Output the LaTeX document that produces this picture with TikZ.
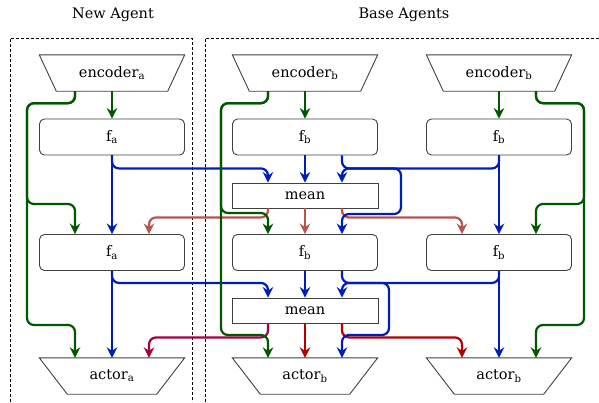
\documentclass[tikz,border=0pt]{standalone}
\usepackage{fontspec}
\setmainfont{DejaVu Serif}
\usetikzlibrary{arrows.meta}
\usetikzlibrary{calc}

\definecolor{grn}{HTML}{005700}
\definecolor{blu}{HTML}{001DBC}
\definecolor{lred}{HTML}{B85450}
\definecolor{crim}{HTML}{A50040}
\definecolor{dred}{HTML}{B20000}

\tikzset{
  fbox/.style={draw=black!75, line width=0.9pt, rounded corners=5pt, minimum width=145pt, minimum height=36pt},
  meanbox/.style={draw=black!75, line width=0.9pt, minimum width=146pt, minimum height=25pt},
  trap/.style={minimum width=145pt, minimum height=36pt},
  outline/.style={draw=black!75, line width=0.9pt, line join=miter},
  wire/.style={line width=2.2pt, rounded corners=7pt, -{Stealth[length=10.5pt,width=10.5pt,inset=3.5pt]}}
}
\newcommand{\trapline}[2]{\draw[outline] (#1.north west) -- (#1.north east) -- ($(#1.south east)+(-#2,0)$) -- ($(#1.south west)+(#2,0)$) -- cycle;}

\begin{document}
\begin{tikzpicture}[x=1pt,y=-1pt,font=\fontsize{14.5}{17}\selectfont]
        \useasboundingbox (0,0) rectangle (599,402);
        \draw [dash pattern=on 3pt off 2pt] (10,402) -- (10,38) -- (192,38) -- (192,402);
        \draw [dash pattern=on 3pt off 2pt] (205,402) -- (205,38) -- (599,38);
        \node (newtitle) at (113,15) {New Agent};
        \node (basetitle) at (404,15) {Base Agents};

        \node[trap] (encA) at (112,73) {encoder\textsubscript{a}};
        \node[trap] (encB) at (305,73) {encoder\textsubscript{b}};
        \node[trap] (encC) at (499,73) {encoder\textsubscript{b}};
        \trapline{encA}{17}
        \trapline{encB}{17}
        \trapline{encC}{17}
        \node[fbox] (fA1) at (112,137) {f\textsubscript{a}};
        \node[fbox] (fB1) at (305,137) {f\textsubscript{b}};
        \node[fbox] (fC1) at (499,137) {f\textsubscript{b}};
        \node[meanbox] (mean1) at (305,195.5) {mean};
        \node[fbox] (fA2) at (112,252.5) {f\textsubscript{a}};
        \node[fbox] (fB2) at (305,252.5) {f\textsubscript{b}};
        \node[fbox] (fC2) at (499,252.5) {f\textsubscript{b}};
        \node[meanbox] (mean2) at (305,310.5) {mean};
        \node[trap] (actA) at (112,376) {actor\textsubscript{a}};
        \node[trap] (actB) at (305,376) {actor\textsubscript{b}};
        \node[trap] (actC) at (499,376) {actor\textsubscript{b}};
        \trapline{actA}{28}
        \trapline{actB}{28}
        \trapline{actC}{28}

        \draw[wire, lred] ([xshift=-37pt]mean1.south) -- ++(0,9) -| ([xshift=37pt]fA2.north);
        \draw[wire, lred] (mean1.south) -- (fB2.north);
        \draw[wire, lred] ([xshift=37pt]mean1.south) -- ++(0,9) -| ([xshift=-37pt]fC2.north);
        \draw[wire, crim] ([xshift=-37pt]mean2.south) -- ++(0,14) -| ([xshift=37pt]actA.north);
        \draw[wire, dred] (mean2.south) -- (actB.north);
        \draw[wire, dred] ([xshift=37pt]mean2.south) -- ++(0,14) -| ([xshift=-37pt]actC.north);

        \draw[wire, blu] (fA1.south) -- (fA2.north);
        \draw[wire, blu] (fA1.south) -- ++(0,13) -| ([xshift=-37pt]mean1.north);
        \draw[wire, blu] (fB1.south) -- (mean1.north);
        \draw[wire, blu] ([xshift=37pt]fB1.south) -- ++(0,13) -| (401,214) -| ([xshift=37pt]fB2.north);
        \draw[wire, blu] (fC1.south) -- (fC2.north);
        \draw[wire, blu] (fC1.south) -- ++(0,13) -| ([xshift=37pt]mean1.north);
        \draw[wire, blu] (fA2.south) -- (actA.north);
        \draw[wire, blu] (fA2.south) -- ++(0,12) -| ([xshift=-37pt]mean2.north);
        \draw[wire, blu] (fB2.south) -- (mean2.north);
        \draw[wire, blu] ([xshift=37pt]fB2.south) -- ++(0,12) -| (389,335) -| ([xshift=37pt]actB.north);
        \draw[wire, blu] (fC2.south) -- (actC.north);
        \draw[wire, blu] (fC2.south) -- ++(0,12) -| ([xshift=37pt]mean2.north);

        \draw[wire, grn] (encA.south) -- (fA1.north);
        \draw[wire, grn] (encB.south) -- (fB1.north);
        \draw[wire, grn] (encC.south) -- (fC1.north);
        \draw[wire, grn] ([xshift=-37pt]encA.south) -- ++(0,12) -| (27,204) -| ([xshift=-37pt]fA2.north);
        \draw[wire, grn] ([xshift=-37pt]encA.south) -- ++(0,12) -| (27,325) -| ([xshift=-37pt]actA.north);
        \draw[wire, grn] ([xshift=-37pt]encB.south) -- ++(0,12) -| (221,213) -| ([xshift=-37pt]fB2.north);
        \draw[wire, grn] ([xshift=-37pt]encB.south) -- ++(0,12) -| (221,335) -| ([xshift=-37pt]actB.north);
        \draw[wire, grn] ([xshift=37pt]encC.south) -- ++(0,12) -| (584,204) -| ([xshift=37pt]fC2.north);
        \draw[wire, grn] ([xshift=37pt]encC.south) -- ++(0,12) -| (584,325) -| ([xshift=37pt]actC.north);
\end{tikzpicture}
\end{document}
